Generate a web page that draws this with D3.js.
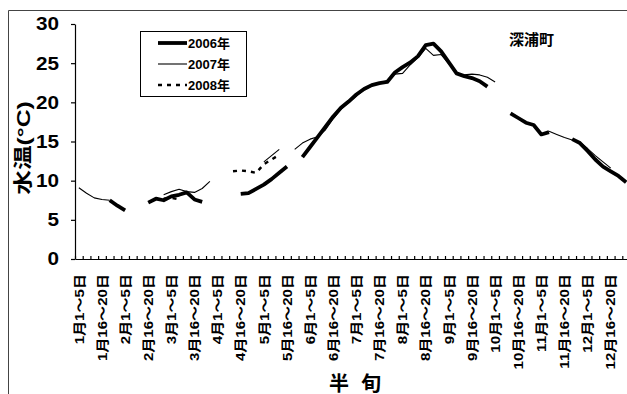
<!DOCTYPE html>
<html>
<head>
<meta charset="utf-8">
<script src="https://cdn.jsdelivr.net/npm/d3@7"></script>
<style>
  body { margin: 0; background: #fff; }
  svg { display: block; }
  text { font-family: "Liberation Sans", "Noto Sans CJK JP", sans-serif; fill: #000; }
</style>
</head>
<body>
<svg id="chart" width="627" height="394"></svg>
<script>

// 72 half-month periods (半旬), every third one is labelled
var PENTADS = 72;

var tickLabels = [
	"1月1～5日", "1月16～20日", "2月1～5日", "2月16～20日",
	"3月1～5日", "3月16～20日", "4月1～5日", "4月16～20日",
	"5月1～5日", "5月16～20日", "6月1～5日", "6月16～20日",
	"7月1～5日", "7月16～20日", "8月1～5日", "8月16～20日",
	"9月1～5日", "9月16～20日", "10月1～5日", "10月16～20日",
	"11月1～5日", "11月16～20日", "12月1～5日", "12月16～20日"
];

var yTicks = [0, 5, 10, 15, 20, 25, 30];

// one row per month, six pentads each, null = no data
var temps2006 = [
	null, null, null, null, 7.5, 6.8,
	6.2, null, null, 7.2, 7.7, 7.5,
	8.0, 8.2, 8.5, 7.6, 7.3, null,
	null, null, null, 8.3, 8.4, 8.95,
	9.5, 10.2, 11.0, 11.8, null, 13.0,
	14.3, 15.6, 16.9, 18.2, 19.3, 20.1,
	21.0, 21.7, 22.2, 22.45, 22.6, 23.8,
	24.5, 25.1, 25.9, 27.3, 27.5, 26.5,
	25.1, 23.7, 23.35, 23.1, 22.7, 22.0,
	null, null, 18.6, 18.0, 17.4, 17.1,
	15.9, 16.2, null, null, 15.3, 14.8,
	13.8, 12.7, 11.8, 11.2, 10.6, 9.8
];

var temps2007 = [
	9.1, 8.4, 7.8, 7.6, 7.5, null,
	null, null, null, null, null, 8.2,
	8.6, 8.9, 8.6, 8.5, 9.0, 9.9,
	null, null, null, null, null, null,
	12.4, 13.2, 14.0, null, 14.0, 14.8,
	15.3, 15.6, 16.5, 17.9, 19.1, 20.0,
	20.8, 21.6, 22.1, 22.4, 22.8, 23.6,
	23.7, 24.8, 25.7, 26.9, 26.0, 26.1,
	24.9, 23.7, 23.5, 23.6, 23.5, 23.2,
	22.6, null, null, null, null, null,
	null, 16.3, 15.9, 15.5, 15.2, 14.9,
	14.1, 13.2, 12.4, 11.6, null, null
];

var temps2008 = [
	null, null, null, null, null, null,
	null, null, null, null, null, 7.7,
	7.8, 7.6, null, null, null, null,
	null, null, 11.2, 11.3, 11.2, 11.0,
	12.1, 12.7, 13.3, null, null, null,
	null, null, null, null, null, null,
	null, null, null, null, null, null,
	null, null, null, null, null, null,
	null, null, null, null, null, null,
	null, null, null, null, null, null,
	null, null, null, null, null, null,
	null, null, null, null, null, null
];

var seriesNames = ["2006年", "2007年", "2008年"];

function main() {

	var svg = d3.select("#chart");

	var LEFT	= 75;
	var RIGHT	= 630;
	var TOP		= 24;
	var BOTTOM	= 259;

	var x = d3.scaleBand()
		.domain(d3.range(PENTADS))
		.range([LEFT, RIGHT])
		.padding(0);

	var xEdge = d3.scaleLinear()
		.domain([0, PENTADS])
		.range([LEFT, RIGHT]);

	var y = d3.scaleLinear()
		.domain([0, 30])
		.range([BOTTOM, TOP]);

	var cx = function(i) { return x(i) + x.bandwidth() / 2; };

	// outer frame (the picture is cropped on the right and bottom)
	svg.append("path")
		.attr("d", "M8.5,394V10.5H627")
		.attr("fill", "none")
		.attr("stroke", "#444")
		.attr("stroke-width", 1);

	// y axis
	var yAxis = svg.append("g")
		.attr("transform", "translate(" + LEFT + ",0)")
		.call(d3.axisLeft(y).tickValues(yTicks).tickSize(4).tickSizeOuter(0).tickFormat(""));

	yAxis.selectAll("path, line").attr("stroke", "#000").attr("stroke-width", 1.2);

	svg.append("g").selectAll("g")
		.data(yTicks)
		.enter().append("g")
		.attr("transform", function(d) { return "translate(59," + y(d) + ") scale(1.15,1)"; })
		.append("text")
		.attr("text-anchor", "end")
		.attr("dy", "0.36em")
		.style("font-size", "18px")
		.style("font-weight", "bold")
		.text(function(d) { return d; });

	// x axis, tick marks on every pentad boundary, pointing in
	var xAxis = svg.append("g")
		.attr("transform", "translate(0," + BOTTOM + ")")
		.call(d3.axisTop(xEdge).tickValues(d3.range(0, PENTADS + 1)).tickSize(3).tickSizeOuter(0).tickFormat(""));

	xAxis.selectAll("path, line").attr("stroke", "#000").attr("stroke-width", 1.2);

	svg.append("g").selectAll("g")
		.data(tickLabels)
		.enter().append("g")
		.attr("transform", function(d, i) {
			return "translate(" + cx(i * 3) + ",274) rotate(-90) scale(1.16,1)";
		})
		.append("text")
		.attr("text-anchor", "end")
		.attr("dy", "0.36em")
		.style("font-size", "13px")
		.style("font-weight", "bold")
		.text(function(d) { return d; });

	// axis titles
	svg.append("g")
		.attr("transform", "translate(23,148) rotate(-90) scale(1.3,1)")
		.append("text")
		.attr("text-anchor", "middle")
		.attr("dy", "0.36em")
		.style("font-size", "19px")
		.style("font-weight", "bold")
		.text("水温(°C)");

	svg.append("g").selectAll("text")
		.data(["半", "旬"])
		.enter().append("text")
		.attr("x", function(d, i) { return [339, 371][i]; })
		.attr("y", 391)
		.attr("text-anchor", "middle")
		.style("font-size", "20px")
		.style("font-weight", "bold")
		.text(function(d) { return d; });

	svg.append("text")
		.attr("x", 509)
		.attr("y", 45)
		.style("font-size", "15px")
		.style("font-weight", "bold")
		.text("深浦町");

	// series
	var line = d3.line()
		.defined(function(d) { return d != null; })
		.x(function(d, i) { return cx(i); })
		.y(function(d) { return y(d); });

	var styles = [
		{ data: temps2006, width: 3.8, dash: null },
		{ data: temps2007, width: 1.1, dash: null },
		{ data: temps2008, width: 2.4, dash: "4,5" }
	];

	[1, 2, 0].forEach(function(k) {
		svg.append("path")
			.datum(styles[k].data)
			.attr("d", line)
			.attr("fill", "none")
			.attr("stroke", "#000")
			.attr("stroke-width", styles[k].width)
			.attr("stroke-linejoin", "round")
			.attr("stroke-dasharray", styles[k].dash);
	});

	// legend
	var legend = svg.append("g");

	legend.append("rect")
		.attr("x", 140.5)
		.attr("y", 31.5)
		.attr("width", 106)
		.attr("height", 65)
		.attr("fill", "#fff")
		.attr("stroke", "#000")
		.attr("stroke-width", 1);

	var rows = legend.selectAll("g.item")
		.data(seriesNames)
		.enter().append("g")
		.attr("class", "item")
		.attr("transform", function(d, i) { return "translate(0," + [43, 64, 85][i] + ")"; });

	rows.append("line")
		.attr("x1", 158)
		.attr("x2", 187)
		.attr("stroke", "#000")
		.attr("stroke-width", function(d, i) { return styles[i].width; })
		.attr("stroke-dasharray", function(d, i) { return styles[i].dash; });

	rows.append("text")
		.attr("x", 188)
		.attr("dy", "0.36em")
		.style("font-size", "13px")
		.style("font-weight", "bold")
		.text(function(d) { return d; });
}

main();
</script>
</body>
</html>
